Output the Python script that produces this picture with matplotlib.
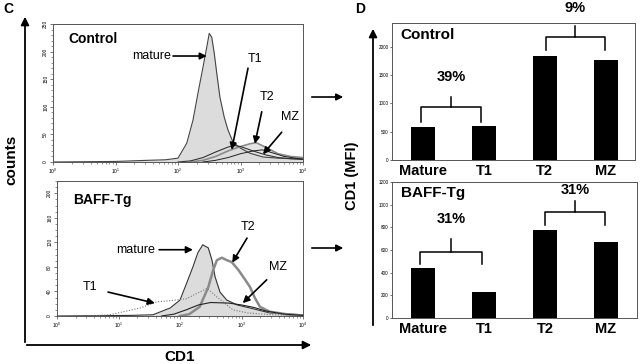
import matplotlib.pyplot as plt
from matplotlib.ticker import MultipleLocator, LogLocator, NullFormatter
import numpy as np

plt.rcParams['font.family'] = ['Liberation Sans', 'DejaVu Sans']

# ---- panel C data (x = log10 CD1, y = counts) ----
ctrl_mature_log = [0.0, 1.0, 1.5, 1.8, 2.0, 2.14, 2.24, 2.32, 2.4, 2.46, 2.5, 2.54,
                   2.58, 2.62, 2.67, 2.74, 2.8, 2.88, 3.0, 3.15, 3.36, 3.6, 4.0]
ctrl_mature_cnt = [0, 1, 3, 4, 7, 34, 76, 125, 172, 208, 233, 226,
                   197, 161, 118, 81, 58, 36, 25, 16, 9, 7, 5]
ctrl_t1_log = [2.0, 2.2, 2.4, 2.6, 2.8, 2.9, 3.0, 3.2, 3.4, 3.6, 3.8, 4.0]
ctrl_t1_cnt = [0, 2, 8, 18, 27, 30, 28, 20, 13, 8, 6, 5]
ctrl_t2_log = [2.2, 2.4, 2.6, 2.8, 3.0, 3.15, 3.25, 3.4, 3.6, 3.8, 4.0]
ctrl_t2_cnt = [0, 3, 10, 20, 28, 33, 35, 27, 15, 10, 8]
ctrl_mz_log = [2.4, 2.6, 2.8, 3.0, 3.2, 3.35, 3.5, 3.7, 4.0]
ctrl_mz_cnt = [0, 3, 8, 15, 20, 22, 17, 10, 5]

baff_mature_log = [0.0, 1.2, 1.56, 1.84, 2.0, 2.11, 2.21, 2.29, 2.37, 2.46, 2.52,
                   2.57, 2.65, 2.76, 2.93, 3.14, 3.46, 4.0]
baff_mature_cnt = [0, 1, 2, 13, 26, 54, 80, 103, 116, 111, 91,
                   64, 39, 26, 18, 13, 5, 2]
baff_t1_log = [0.5, 0.86, 1.35, 1.62, 1.84, 2.1, 2.3, 2.44, 2.6, 2.86, 3.1, 3.5, 4.0]
baff_t1_cnt = [0, 2, 13, 23, 25, 28, 38, 45, 31, 10, 5, 2, 1]
baff_t2_log = [2.0, 2.15, 2.32, 2.46, 2.54, 2.6, 2.68, 2.76, 2.84, 2.95, 3.06,
               3.14, 3.22, 3.3, 3.46, 3.79, 4.0]
baff_t2_cnt = [0, 3, 15, 47, 75, 91, 95, 91, 88, 75, 59,
               47, 29, 15, 7, 2, 1]
baff_mz_log = [1.7, 1.9, 2.1, 2.3, 2.5, 2.8, 3.0, 3.2, 3.4, 3.7, 4.0]
baff_mz_cnt = [0, 3, 10, 18, 22, 21, 18, 14, 8, 3, 1]

# ---- panel D data (CD1 MFI) ----
groups = ['Mature', 'T1', 'T2', 'MZ']
ctrl_mfi = [590, 600, 1830, 1770]
baff_mfi = [440, 230, 780, 670]
ctrl_pct = ['39%', '9%']
baff_pct = ['31%', '31%']

W, H = 640, 364
fig = plt.figure(figsize=(W / 100, H / 100), dpi=100)


def px_axes(left, top, right, bottom):
    return fig.add_axes([left / W, 1 - bottom / H, (right - left) / W, (bottom - top) / H])


def fig_arrow(x0, y0, x1, y1, lw=1.3, ms=12):
    fig.add_artist(plt.matplotlib.patches.FancyArrowPatch(
        (x0 / W, 1 - y0 / H), (x1 / W, 1 - y1 / H), transform=fig.transFigure,
        arrowstyle='-|>', mutation_scale=ms, lw=lw, color='k'))


def hist_axes(ax, ymax, ymaj, ymin):
    ax.set_xscale('log')
    ax.set_xlim(1, 1e4)
    ax.set_ylim(0, ymax)
    ax.yaxis.set_major_locator(MultipleLocator(ymaj))
    ax.yaxis.set_minor_locator(MultipleLocator(ymin))
    ax.xaxis.set_major_locator(LogLocator(base=10, numticks=10))
    ax.xaxis.set_minor_locator(LogLocator(base=10, subs=np.arange(2, 10), numticks=10))
    ax.xaxis.set_minor_formatter(NullFormatter())
    ax.tick_params(which='major', length=2.5, width=0.5, labelsize=3.5, pad=1, color='#444')
    ax.tick_params(which='minor', length=1.3, width=0.4, color='#444')
    for lab in ax.get_yticklabels():
        lab.set_rotation(90)
        lab.set_va('center')
    for s in ax.spines.values():
        s.set_linewidth(0.7)
        s.set_color('#555')


def arrow(ax, text, txy, start, end, fs=9, weight='normal'):
    ax.text(10 ** txy[0], txy[1], text, fontsize=fs, ha='center', va='center', fontweight=weight)
    if start is not None:
        ax.annotate('', xy=(10 ** end[0], end[1]), xytext=(10 ** start[0], start[1]),
                    arrowprops=dict(arrowstyle='-|>', lw=1.2, color='k', mutation_scale=10,
                                    shrinkA=0, shrinkB=0))


def lg(v):
    return 10 ** np.array(v)


# ---- C top: control ----
ax1 = px_axes(53, 24, 303, 162)
ax1.fill_between(lg(ctrl_t2_log), ctrl_t2_cnt, color='#e4e4e4', lw=0)
ax1.fill_between(lg(ctrl_mature_log), ctrl_mature_cnt, color='#dcdcdc', lw=0)
ax1.plot(lg(ctrl_mature_log), ctrl_mature_cnt, color='#444', lw=0.8)
ax1.plot(lg(ctrl_t2_log), ctrl_t2_cnt, color='#8a8a8a', lw=1.2)
ax1.plot(lg(ctrl_t1_log), ctrl_t1_cnt, color='#333', lw=0.8)
ax1.plot(lg(ctrl_mz_log), ctrl_mz_cnt, color='#222', lw=0.7)
hist_axes(ax1, 250, 50, 10)
ax1.text(10 ** 0.24, 223, 'Control', fontsize=10, fontweight='bold', va='center')
arrow(ax1, 'mature', (1.58, 192), (1.92, 192), (2.46, 192))
arrow(ax1, 'T1', (3.23, 187), (3.12, 170), (2.86, 22))
arrow(ax1, 'T2', (3.42, 118), (3.34, 91), (3.23, 33))
arrow(ax1, 'MZ', (3.79, 82), (3.66, 54), (3.36, 14))

# ---- C bottom: BAFF-Tg ----
ax2 = px_axes(57, 181, 303, 316)
ax2.fill_between(lg(baff_mature_log), baff_mature_cnt, color='#dcdcdc', lw=0)
ax2.plot(lg(baff_mature_log), baff_mature_cnt, color='#333', lw=0.8)
ax2.plot(lg(baff_t1_log), baff_t1_cnt, color='#777', lw=0.8, ls=(0, (1, 1.5)))
ax2.plot(lg(baff_t2_log), baff_t2_cnt, color='#8a8a8a', lw=1.8)
ax2.plot(lg(baff_mz_log), baff_mz_cnt, color='#222', lw=0.8)
hist_axes(ax2, 220, 40, 10)
ax2.text(10 ** 0.26, 189, 'BAFF-Tg', fontsize=10, fontweight='bold', va='center')
arrow(ax2, 'mature', (1.27, 108), (1.66, 108), (2.21, 108))
arrow(ax2, 'T2', (3.11, 145), (3.09, 127), (2.85, 87))
arrow(ax2, 'MZ', (3.6, 80), (3.41, 59), (3.02, 21))
arrow(ax2, 'T1', (0.54, 48), (0.83, 39), (1.59, 21))


# ---- D bars ----
def bar_axes(ax, vals, ymax, ymaj, title, title_y, brackets):
    x = np.arange(len(groups))
    ax.bar(x, vals, width=0.4, color='k')
    ax.set_ylim(0, ymax)
    ax.yaxis.set_major_locator(MultipleLocator(ymaj))
    ax.set_xticks(x)
    ax.set_xticklabels(groups, fontsize=10.5, fontweight='bold')
    ax.tick_params(axis='x', length=0, pad=3)
    ax.tick_params(axis='y', length=1.5, width=0.4, labelsize=3.3, pad=1)
    for s in ax.spines.values():
        s.set_linewidth(0.7)
        s.set_color('#555')
    ax.text(-0.37, title_y, title, fontsize=11, fontweight='bold', va='center')
    for (i0, i1, yb, leg, top, ty, lab) in brackets:
        ax.plot([i0, i0, i1, i1], [yb - leg, yb, yb, yb - leg], color='k', lw=1.1, clip_on=False)
        ax.plot([(i0 + i1) / 2] * 2, [yb, yb + top], color='k', lw=1.1, clip_on=False)
        ax.text((i0 + i1) / 2, ty, lab, fontsize=10.5, fontweight='bold', ha='center',
                va='center', clip_on=False)


ax3 = px_axes(392, 23, 635, 160)
ax3.set_xlim(-0.51, 3.48)
bar_axes(ax3, ctrl_mfi, 2420, 500, 'Control', 2212,
         [(-0.03, 0.95, 938, 265, 177, 1469, ctrl_pct[0]),
          (2.02, 2.98, 2177, 230, 195, 2690, ctrl_pct[1])])

ax4 = px_axes(392, 182, 637, 318)
ax4.set_xlim(-0.51, 3.51)
bar_axes(ax4, baff_mfi, 1200, 200, 'BAFF-Tg', 1101,
         [(-0.05, 0.97, 581, 105, 115, 872, baff_pct[0]),
          (2.0, 2.98, 934, 115, 97, 1128, baff_pct[1])])

# ---- frame arrows and labels ----
fig_arrow(25, 345, 25, 14)
fig_arrow(24, 345, 314, 345)
fig_arrow(373, 328, 373, 26)
fig_arrow(309, 97, 346, 97, lw=1.2, ms=10)
fig_arrow(309, 248, 346, 248, lw=1.2, ms=10)

fig.text(8 / W, 1 - 9 / H, 'C', fontsize=10, fontweight='bold', ha='center', va='center')
fig.text(360 / W, 1 - 9 / H, 'D', fontsize=10, fontweight='bold', ha='center', va='center')
fig.text(11 / W, 1 - 160 / H, 'counts', fontsize=11, fontweight='bold', rotation=90,
         ha='center', va='center')
fig.text(352 / W, 1 - 176 / H, 'CD1 (MFI)', fontsize=10.5, fontweight='bold', rotation=90,
         ha='center', va='center')
fig.text(180 / W, 1 - 357 / H, 'CD1', fontsize=11, fontweight='bold', ha='center', va='center')

fig.savefig('out.png', dpi=100)
